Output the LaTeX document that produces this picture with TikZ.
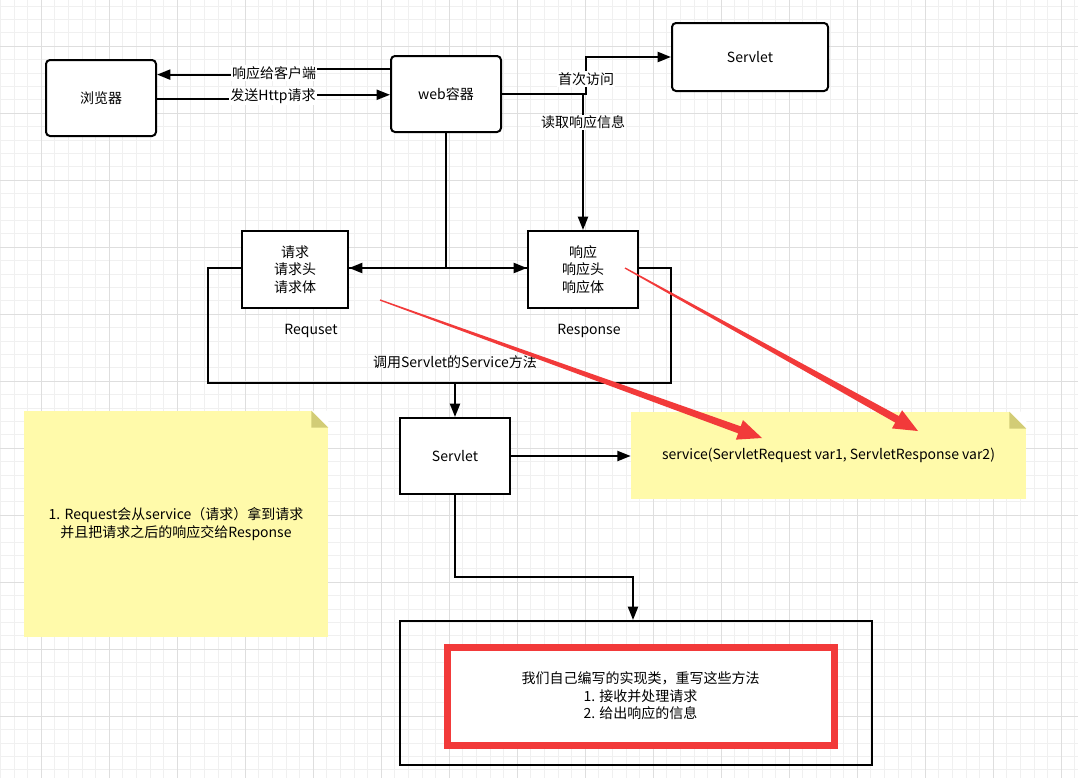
\documentclass[tikz,border=0pt]{standalone}
\usepackage{fontspec}
\setmainfont{Noto Sans CJK SC}
\usetikzlibrary{arrows.meta,calc,positioning}

\definecolor{notefill}{RGB}{255,250,170}
\definecolor{notefold}{RGB}{210,204,118}
\definecolor{markred}{RGB}{242,58,58}
\definecolor{gridminor}{RGB}{240,240,240}
\definecolor{gridmajor}{RGB}{222,222,222}

% tapered red pointer from #1 to #2
\newcommand{\redpointer}[2]{%
  \path ($(#2)!18pt!(#1)$) coordinate (#1base);
  \fill[markred] ($(#1)!0.5pt!90:(#2)$) -- ($(#1base)!2.8pt!90:(#2)$)
    -- ($(#1base)!7.8pt!90:(#2)$) -- (#2) -- ($(#1base)!7.8pt!-90:(#2)$)
    -- ($(#1base)!2.8pt!-90:(#2)$) -- ($(#1)!0.5pt!-90:(#2)$) -- cycle;
}

\begin{document}
\begin{tikzpicture}[x=0.75pt, y=-0.75pt,
  font=\fontsize{10.5pt}{13pt}\selectfont,
  box/.style={draw, line width=1.5pt, fill=white, align=center, inner sep=0pt},
  roundbox/.style={box, rounded corners=3pt},
  lbl/.style={fill=white, inner sep=1pt},
  conn/.style={line width=1.5pt},
  arr/.style={conn, -{Triangle[length=10pt,width=7.5pt]}},
  note/.style={fill=notefill, align=center, inner sep=0pt}]

\fill[white] (0,0) rectangle (1078,778);
\useasboundingbox (0,0) rectangle (1078,778);

% background grid
\foreach \gx in {0,...,79} \draw[gridminor, line width=0.4pt] ({0.2+13.6*\gx},0) -- ({0.2+13.6*\gx},778);
\foreach \gy in {0,...,57} \draw[gridminor, line width=0.4pt] (0,{5.8+13.4*\gy}) -- (1078,{5.8+13.4*\gy});
\foreach \gx in {0,...,15} \draw[gridmajor, line width=0.5pt] ({41+68*\gx},0) -- ({41+68*\gx},778);
\foreach \gy in {0,...,10} \draw[gridmajor, line width=0.5pt] (0,{46+67*\gy}) -- (1078,{46+67*\gy});

% top row
\node[roundbox, minimum width=82.5pt, minimum height=57pt] (browser) at (101,98) {浏览器};
\node[roundbox, minimum width=82.5pt, minimum height=57pt] (web) at (446,94) {web容器};
\node[roundbox, minimum width=117pt, minimum height=51pt] (servletA) at (750,57) {Servlet};

% request / response frame
\node[draw, line width=1.5pt, minimum width=347.25pt, minimum height=86.25pt] (frame) at (439.5,325.5) {};
\node[box, minimum width=79.5pt, minimum height=57.75pt] (req) at (295,269.5) {请求\\请求头\\请求体};
\node[box, minimum width=82.5pt, minimum height=57.75pt] (resp) at (583,269.5) {响应\\响应头\\响应体};
\node (reqname) at (311,331) {Requset};
\node (respname) at (589,331) {Response};
\node (framename) at (455,362) {调用Servlet的Service方法};

\node[box, minimum width=82.5pt, minimum height=57pt] (servletB) at (455,456) {Servlet};

% notes
\node[note, minimum width=296.25pt, minimum height=65.25pt] (sig) at (828.5,455.5) {service(ServletRequest var1, ServletResponse var2)};
\node[note, minimum width=228pt, minimum height=169.5pt] (hint) at (176,524) {1. Request会从service（请求）拿到请求\\并且把请求之后的响应交给Response};
\foreach \n in {sig,hint} {
  \fill[white] ($(\n.north east)+(-17,0)$) -- (\n.north east) -- ($(\n.north east)+(0,17)$) -- cycle;
  \fill[notefold] ($(\n.north east)+(-17,0)$) -- ($(\n.north east)+(-17,17)$) -- ($(\n.north east)+(0,17)$) -- cycle;
}

% implementation box
\node[draw, line width=1.5pt, minimum width=354pt, minimum height=108pt] (impl) at (636,693) {};
\node[draw=markred, line width=5.25pt, fill=white, align=center, minimum width=290.25pt, minimum height=73.5pt] (override) at (640.5,696) {我们自己编写的实现类，重写这些方法\\1. 接收并处理请求\\2. 给出响应的信息};

% connectors
\coordinate (w1) at ($(web.north west)!0.18!(web.south west)$);
\coordinate (b1) at ($(browser.north east)!0.2!(browser.south east)$);
\coordinate (b2) at ($(browser.north east)!0.51!(browser.south east)$);
\coordinate (w2) at ($(web.north west)!0.51!(web.south west)$);
\coordinate (lblA) at (274,73);
\coordinate (lblB) at (273,96);
\draw[arr] (w1) -| (lblA) |- (b1);
\draw[arr] (b2) -| (lblB) |- (w2);
\node[lbl] (lblAtext) at (lblA) {响应给客户端};
\node[lbl] (lblBtext) at (lblB) {发送Http请求};

\coordinate (ja) at (586,94);
\draw[arr] (web.east) -- (ja) |- node[lbl, pos=0.2] (firsttext) {首次访问} (servletA.west);
\draw[arr] (resp.north |- web.east) -- node[lbl, pos=0.21] (readtext) {读取响应信息} (resp.north);

\coordinate (jw) at (446,268);
\draw[conn] (web.south) -- (jw);
\draw[arr] (jw) -- (jw -| req.east);
\draw[arr] (jw) -- (jw -| resp.west);

\draw[arr] (frame.south -| servletB.north) -- (servletB.north);
\draw[arr] (servletB.east) -- (servletB.east -| sig.west);
\coordinate (jb) at (633,577);
\draw[arr] (servletB.south) |- (jb) -- (jb |- impl.north);

% red pointers
\coordinate (ra) at (380,300);
\coordinate (rta) at (762,438);
\coordinate (rb) at (625,268);
\coordinate (rtb) at (918,431);
\redpointer{ra}{rta}
\redpointer{rb}{rtb}

\end{tikzpicture}
\end{document}
